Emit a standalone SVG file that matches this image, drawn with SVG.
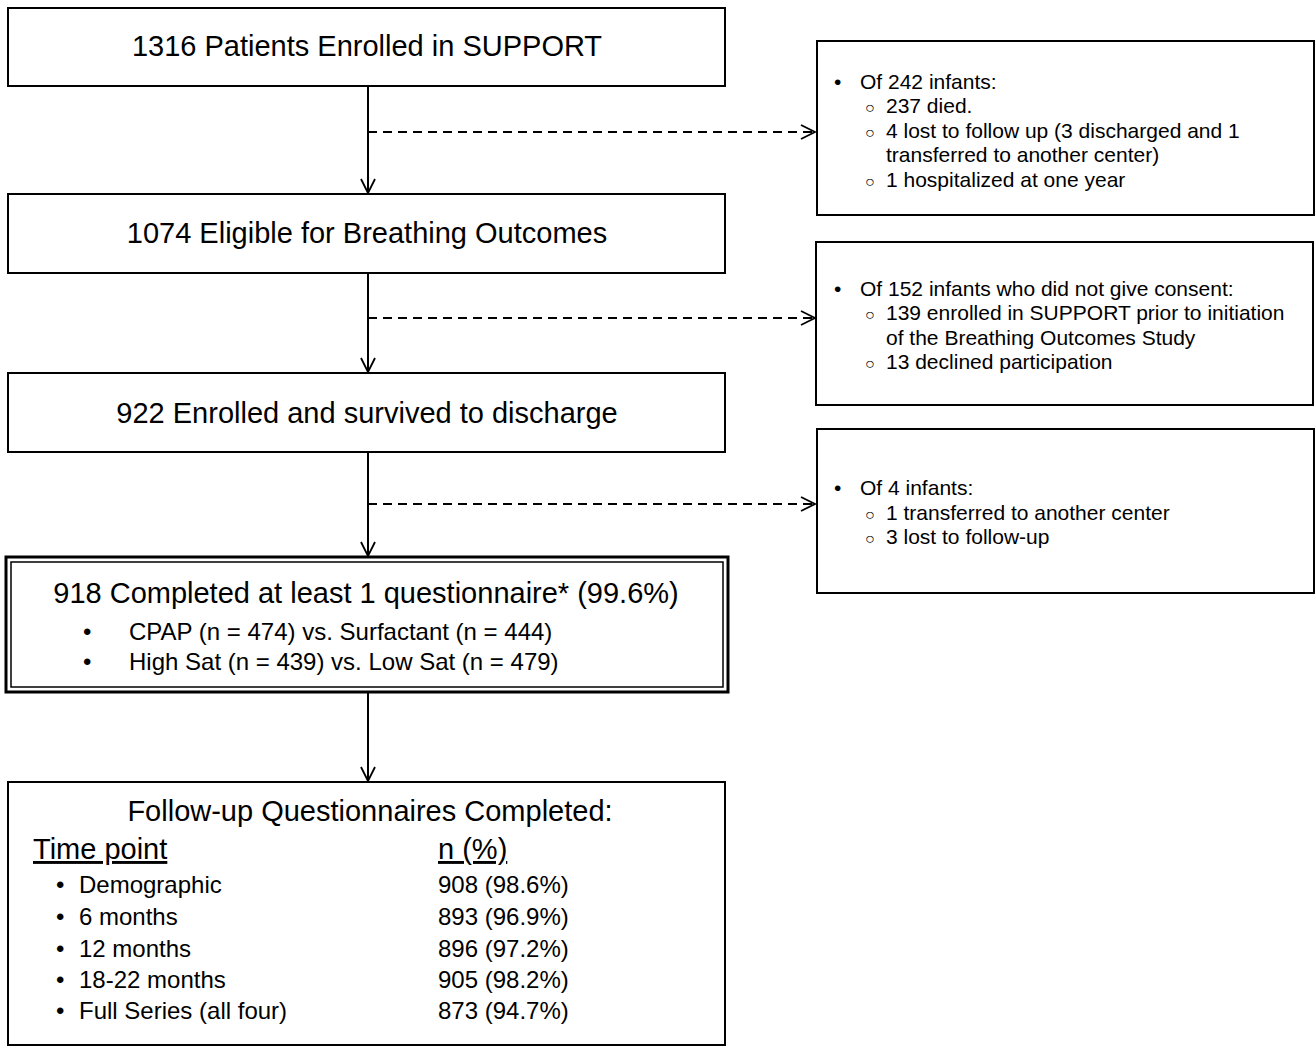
<svg xmlns="http://www.w3.org/2000/svg" width="1315" height="1047" viewBox="0 0 1315 1047">
<defs>
<style>
.box{fill:#fff;stroke:#000;stroke-width:2}
.t{font-family:"Liberation Sans",Arial,sans-serif;fill:#000}
.main{font-size:29px;text-anchor:middle}
.side{font-size:21px}
.row{font-size:24px}
.flow{stroke:#000;stroke-width:2;fill:none}
.dash{stroke:#000;stroke-width:2;fill:none;stroke-dasharray:9,6}
</style>
<marker id="ah" viewBox="0 0 16 16" refX="15" refY="8" markerWidth="16" markerHeight="16" markerUnits="userSpaceOnUse" orient="auto">
<path d="M1,1 L15,8 L1,15" fill="none" stroke="#000" stroke-width="1.8"/>
</marker>
</defs>
<rect width="1315" height="1047" fill="#fff"/>
<g id="connectors">
<line class="flow" x1="368" y1="86" x2="368" y2="193" marker-end="url(#ah)"/>
<line class="flow" x1="368" y1="273" x2="368" y2="372" marker-end="url(#ah)"/>
<line class="flow" x1="368" y1="452" x2="368" y2="556" marker-end="url(#ah)"/>
<line class="flow" x1="368" y1="692" x2="368" y2="781" marker-end="url(#ah)"/>
<line class="dash" x1="368" y1="132" x2="815" y2="132" marker-end="url(#ah)"/>
<line class="dash" x1="368" y1="318" x2="815" y2="318" marker-end="url(#ah)"/>
<line class="dash" x1="368" y1="504" x2="815" y2="504" marker-end="url(#ah)"/>
</g>
<g id="n1">
<rect class="box" x="8" y="8" width="717" height="78"/>
<text class="t main" x="367" y="56">1316 Patients Enrolled in SUPPORT</text>
</g>
<g id="n2">
<rect class="box" x="8" y="194" width="717" height="79"/>
<text class="t main" x="367" y="243">1074 Eligible for Breathing Outcomes</text>
</g>
<g id="n3">
<rect class="box" x="8" y="373" width="717" height="79"/>
<text class="t main" x="367" y="423">922 Enrolled and survived to discharge</text>
</g>
<g id="n4">
<rect x="6" y="557" width="722" height="135" fill="#fff" stroke="#000" stroke-width="3"/>
<rect x="11" y="562" width="712" height="125" fill="none" stroke="#000" stroke-width="1.5"/>
<text class="t main" x="366" y="603">918 Completed at least 1 questionnaire* (99.6%)</text>
<text class="t row" x="83" y="640">•</text>
<text class="t row" x="129" y="640">CPAP (n = 474) vs. Surfactant (n = 444)</text>
<text class="t row" x="83" y="670">•</text>
<text class="t row" x="129" y="670">High Sat (n = 439) vs. Low Sat (n = 479)</text>
</g>
<g id="n5">
<rect class="box" x="8" y="782" width="717" height="263"/>
<text class="t" x="370" y="821" font-size="29" text-anchor="middle">Follow-up Questionnaires Completed:</text>
<text class="t" x="33" y="859" font-size="29" text-decoration="underline">Time point</text>
<text class="t" x="438" y="859" font-size="29" text-decoration="underline">n (%)</text>
<g class="t row">
<text x="56" y="893">•</text><text x="79" y="893">Demographic</text><text x="438" y="893">908 (98.6%)</text>
<text x="56" y="925">•</text><text x="79" y="925">6 months</text><text x="438" y="925">893 (96.9%)</text>
<text x="56" y="957">•</text><text x="79" y="957">12 months</text><text x="438" y="957">896 (97.2%)</text>
<text x="56" y="988">•</text><text x="79" y="988">18-22 months</text><text x="438" y="988">905 (98.2%)</text>
<text x="56" y="1019">•</text><text x="79" y="1019">Full Series (all four)</text><text x="438" y="1019">873 (94.7%)</text>
</g>
</g>
<g id="sA">
<rect class="box" x="817" y="41" width="497" height="174"/>
<g class="t side">
<text x="834" y="89">•</text><text x="860" y="89">Of 242 infants:</text>
<text x="865" y="113" font-size="16">○</text><text x="886" y="113">237 died.</text>
<text x="865" y="138" font-size="16">○</text><text x="886" y="138">4 lost to follow up (3 discharged and 1</text>
<text x="886" y="162">transferred to another center)</text>
<text x="865" y="187" font-size="16">○</text><text x="886" y="187">1 hospitalized at one year</text>
</g>
</g>
<g id="sB">
<rect class="box" x="816" y="242" width="497" height="163"/>
<g class="t side">
<text x="834" y="296">•</text><text x="860" y="296">Of 152 infants who did not give consent:</text>
<text x="865" y="320" font-size="16">○</text><text x="886" y="320">139 enrolled in SUPPORT prior to initiation</text>
<text x="886" y="345">of the Breathing Outcomes Study</text>
<text x="865" y="369" font-size="16">○</text><text x="886" y="369">13 declined participation</text>
</g>
</g>
<g id="sC">
<rect class="box" x="817" y="429" width="497" height="164"/>
<g class="t side">
<text x="834" y="495">•</text><text x="860" y="495">Of 4 infants:</text>
<text x="865" y="520" font-size="16">○</text><text x="886" y="520">1 transferred to another center</text>
<text x="865" y="544" font-size="16">○</text><text x="886" y="544">3 lost to follow-up</text>
</g>
</g>
</svg>
